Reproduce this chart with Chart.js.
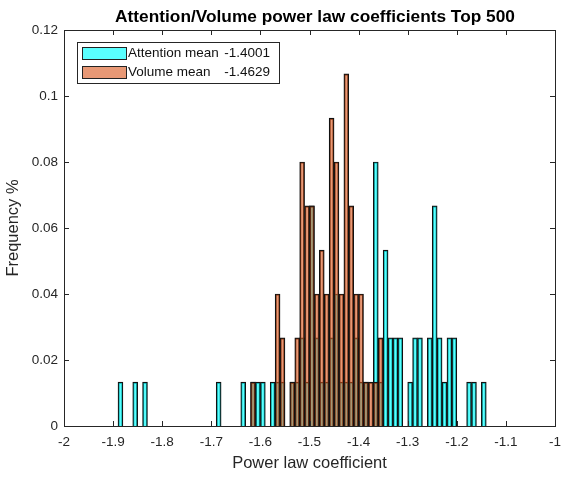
<!DOCTYPE html>
<html>
<head>
<meta charset="utf-8">
<script src="https://cdn.jsdelivr.net/npm/chart.js@4.4.0/dist/chart.umd.min.js"></script>
<style>
  html, body { margin: 0; padding: 0; background: #fff; }
  #wrap { width: 561px; height: 477px; position: relative; }
</style>
</head>
<body>
<div id="wrap"><canvas id="chart"></canvas></div>
<script>
// --- Data (bin left edges, bin width 0.01) ---
const binWidth = 0.01;

const attentionBins = [-1.89, -1.86, -1.84, -1.69, -1.64, -1.62, -1.61, -1.60, -1.58, -1.57,
  -1.56, -1.54, -1.53, -1.52, -1.51, -1.50, -1.49, -1.48, -1.47, -1.46,
  -1.45, -1.44, -1.43, -1.42, -1.41, -1.40, -1.39, -1.37, -1.36, -1.35,
  -1.34, -1.33, -1.32, -1.30, -1.29, -1.28, -1.26, -1.25, -1.24, -1.23,
  -1.22, -1.21, -1.18, -1.17, -1.15];
const attentionFreq = [0.0133, 0.0133, 0.0133, 0.0133, 0.0133, 0.0133, 0.0133, 0.0133, 0.0133, 0.0133,
  0.0133, 0.0133, 0.0133, 0.0267, 0.0133, 0.0667, 0.0267, 0.0133, 0.0133, 0.0267,
  0.04, 0.0133, 0.0133, 0.0133, 0.0267, 0.0133, 0.0133, 0.08, 0.0133, 0.0533,
  0.0267, 0.0267, 0.0267, 0.0133, 0.0267, 0.0267, 0.0267, 0.0667, 0.0267, 0.0133,
  0.0267, 0.0267, 0.0133, 0.0133, 0.0133];

const volumeBins = [-1.62, -1.57, -1.56, -1.54, -1.53, -1.52, -1.51, -1.50, -1.49, -1.48,
  -1.47, -1.46, -1.45, -1.44, -1.43, -1.42, -1.41, -1.40, -1.39, -1.38,
  -1.37, -1.36];
const volumeFreq = [0.0133, 0.04, 0.0267, 0.0133, 0.0267, 0.08, 0.0667, 0.0667, 0.04, 0.0533,
  0.04, 0.0933, 0.08, 0.04, 0.1067, 0.0667, 0.04, 0.04, 0.0133, 0.0133,
  0.0133, 0.0267];

const legendLabels = ['Attention mean', 'Volume mean'];
const legendMeans = ['-1.4001', '-1.4629'];
const chartTitle = 'Attention/Volume power law coefficients Top 500';

const cyanFill = 'rgba(0, 255, 255, 0.65)';
const orangeFill = 'rgba(217, 83, 25, 0.6)';
const axisColor = '#262626';
const fontFamily = '"Liberation Sans", Arial, Helvetica, sans-serif';

function toPoints(bins, freq) {
    return bins.map((b, i) => ({ x: b + binWidth / 2, y: freq[i] }));
}

function fmt(v) {
    return String(Number(v.toFixed(2)));
}

// MATLAB-like box, inward ticks, title and legend
const matlabDecor = {
    id: 'matlabDecor',
    afterDraw(chart) {
        const ctx = chart.ctx;
        const a = chart.chartArea;
        const xs = chart.scales.x, ys = chart.scales.y;
        ctx.save();
        ctx.strokeStyle = axisColor;
        ctx.lineWidth = 1;
        ctx.strokeRect(Math.round(a.left) + 0.5, Math.round(a.top) + 0.5,
            Math.round(a.right - a.left), Math.round(a.bottom - a.top));
        const tl = 5;
        ctx.beginPath();
        xs.ticks.forEach(t => {
            const px = Math.round(xs.getPixelForValue(t.value)) + 0.5;
            ctx.moveTo(px, a.bottom); ctx.lineTo(px, a.bottom - tl);
            ctx.moveTo(px, a.top); ctx.lineTo(px, a.top + tl);
        });
        ys.ticks.forEach(t => {
            const py = Math.round(ys.getPixelForValue(t.value)) + 0.5;
            ctx.moveTo(a.left, py); ctx.lineTo(a.left + tl, py);
            ctx.moveTo(a.right, py); ctx.lineTo(a.right - tl, py);
        });
        ctx.stroke();

        // title
        ctx.fillStyle = '#000';
        ctx.font = 'bold 17.3px ' + fontFamily;
        ctx.textAlign = 'center';
        ctx.textBaseline = 'middle';
        ctx.fillText(chartTitle, 315, 17);

        // legend
        const lx = 77, ly = 42, lw = 202, lh = 41;
        ctx.fillStyle = '#fff';
        ctx.fillRect(lx, ly, lw, lh);
        ctx.strokeStyle = axisColor;
        ctx.strokeRect(lx + 0.5, ly + 0.5, lw, lh);
        const fills = [cyanFill, orangeFill];
        ctx.font = '13.5px ' + fontFamily;
        ctx.textBaseline = 'middle';
        legendLabels.forEach((lab, i) => {
            const sy = 47 + i * 19;
            ctx.fillStyle = '#fff';
            ctx.fillRect(82, sy, 44, 12);
            ctx.fillStyle = fills[i];
            ctx.fillRect(82, sy, 44, 12);
            ctx.strokeStyle = '#222';
            ctx.strokeRect(82.5, sy + 0.5, 44, 12);
            ctx.fillStyle = '#111';
            ctx.textAlign = 'left';
            ctx.fillText(lab, 128, sy + 6.5);
            ctx.textAlign = 'right';
            ctx.fillText(legendMeans[i], 270, sy + 6.5);
        });
        ctx.restore();
    }
};

const ctx = document.getElementById('chart').getContext('2d');
new Chart(ctx, {
    type: 'bar',
    data: {
        datasets: [
            {
                label: legendLabels[0],
                data: toPoints(attentionBins, attentionFreq),
                backgroundColor: cyanFill,
                borderColor: '#111',
                borderWidth: 1.2,
                order: 2
            },
            {
                label: legendLabels[1],
                data: toPoints(volumeBins, volumeFreq),
                backgroundColor: orangeFill,
                borderColor: '#111',
                borderWidth: 1.2,
                order: 1
            }
        ]
    },
    options: {
        responsive: true,
        maintainAspectRatio: false,
        animation: false,
        grouped: false,
        categoryPercentage: 1,
        barPercentage: 1,
        layout: { padding: { top: 30, right: 6, left: 0, bottom: 0 } },
        plugins: {
            legend: { display: false },
            tooltip: { enabled: false }
        },
        scales: {
            x: {
                type: 'linear',
                min: -2, max: -1,
                offset: false,
                grid: { display: false, drawTicks: false },
                border: { display: false },
                ticks: {
                    stepSize: 0.1,
                    padding: 8,
                    color: '#262626',
                    font: { family: fontFamily, size: 13.5 },
                    callback: v => fmt(v),
                    maxRotation: 0
                },
                title: {
                    display: true,
                    text: 'Power law coefficient',
                    color: '#262626',
                    font: { family: fontFamily, size: 16.5 },
                    padding: { top: 3 }
                },
                afterFit: s => { s.height = 51; s.paddingLeft = 0; s.paddingRight = 0; }
            },
            y: {
                min: 0, max: 0.12,
                grid: { display: false, drawTicks: false },
                border: { display: false },
                ticks: {
                    stepSize: 0.02,
                    padding: 6,
                    color: '#262626',
                    font: { family: fontFamily, size: 13.5 },
                    callback: v => fmt(v)
                },
                title: {
                    display: true,
                    text: 'Frequency %',
                    color: '#262626',
                    font: { family: fontFamily, size: 16.5 },
                    padding: { bottom: 0, top: 4 }
                },
                afterFit: s => { s.width = 64; s.paddingTop = 0; s.paddingBottom = 0; }
            }
        }
    },
    plugins: [matlabDecor]
});
</script>
</body>
</html>
